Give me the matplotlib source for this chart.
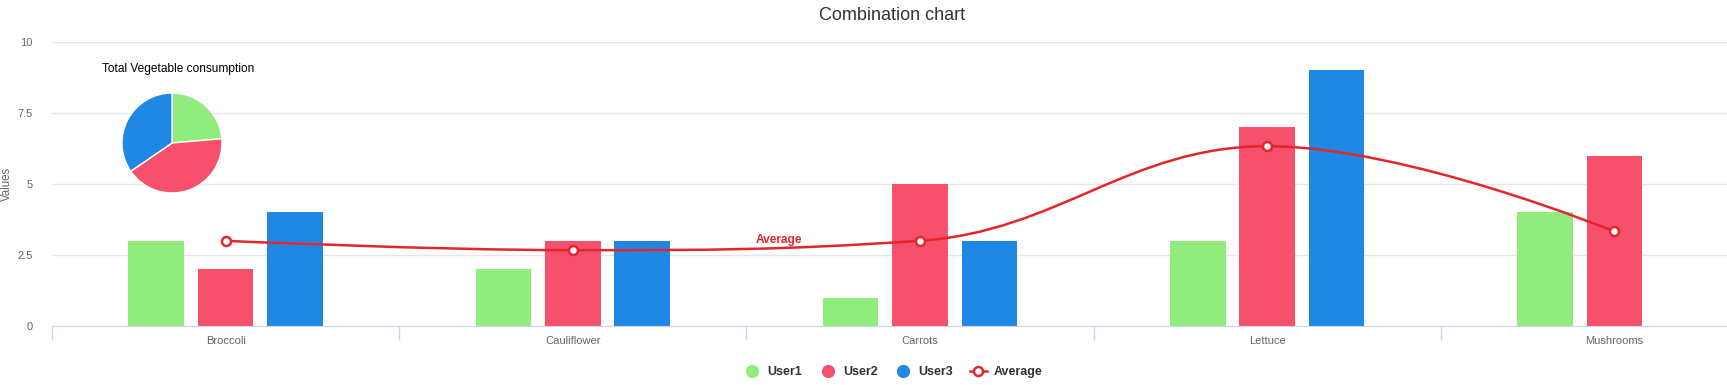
import numpy as np
import matplotlib
matplotlib.use("Agg")
import matplotlib.pyplot as plt
from matplotlib.lines import Line2D
from matplotlib.path import Path
from matplotlib.patches import PathPatch

plt.rcParams['font.family'] = ['Liberation Sans', 'DejaVu Sans']

# data
categories = ['Broccoli', 'Cauliflower', 'Carrots', 'Lettuce', 'Mushrooms']
user1 = [3, 2, 1, 3, 4]
user2 = [2, 3, 5, 7, 6]
user3 = [4, 3, 3, 9, 0]
average = [3, 2.67, 3, 6.33, 3.33]
pie_labels = ['User1', 'User2', 'User3']
pie_values = [13, 23, 19]
y_ticks = [0, 2.5, 5, 7.5, 10]
y_tick_labels = ['0', '2.5', '5', '7.5', '10']

colors = ['#90ed7d', '#f7506c', '#1f88e5']
line_color = '#e3262c'

W, H = 1727, 385
fig = plt.figure(figsize=(W / 100, H / 100), dpi=100)

# plot area runs past the right edge of the picture (cropped screenshot)
left, right, top, bottom = 52, 1788, 42, 326
ax = fig.add_axes([left / W, (H - bottom) / H, (right - left) / W, (bottom - top) / H])
ax.set_xlim(-0.5, len(categories) - 0.5)
ax.set_ylim(0, 10)

for s in ['top', 'right', 'left']:
    ax.spines[s].set_visible(False)
ax.spines['bottom'].set_color('#ccd6eb')
ax.spines['bottom'].set_zorder(4)

ax.set_yticks(y_ticks)
ax.set_yticklabels(y_tick_labels)
ax.yaxis.grid(True, color='#e6e6e6', linewidth=1)
ax.set_axisbelow(True)
ax.tick_params(axis='y', length=0, pad=14, labelsize=8, labelcolor='#666666')

x = np.arange(len(categories))
ax.set_xticks(x)
ax.set_xticklabels(categories)
ax.tick_params(axis='x', length=0, pad=7, labelsize=8, labelcolor='#666666')
# category boundary ticks
ax.set_xticks(np.arange(len(categories) + 1) - 0.5, minor=True)
ax.tick_params(axis='x', which='minor', length=10, color='#ccd6eb', width=1)

# y axis title
fig.text(7 / W, 1 - 184 / H, 'Values', fontsize=8.3, color='#666666',
         rotation=90, ha='center', va='center')

# columns
bw = 0.16
for off, vals, c in zip([-0.2, 0, 0.2], [user1, user2, user3], colors):
    ax.bar(x + off, vals, width=bw, color=c, zorder=2)


# spline (Highcharts style control points)
def hc_spline(xs, ys, smoothing=1.5):
    n = len(xs)
    lc = [None] * n
    rc = [None] * n
    for i in range(1, n - 1):
        px, py = xs[i], ys[i]
        lx0, ly0 = xs[i - 1], ys[i - 1]
        nx, ny = xs[i + 1], ys[i + 1]
        d = smoothing + 1
        lcx = (smoothing * px + lx0) / d
        lcy = (smoothing * py + ly0) / d
        rcx = (smoothing * px + nx) / d
        rcy = (smoothing * py + ny) / d
        corr = (rcy - lcy) * (rcx - px) / (rcx - lcx) + py - rcy
        lcy += corr
        rcy += corr
        if lcy > ly0 and lcy > py:
            lcy = max(ly0, py)
            rcy = 2 * py - lcy
        elif lcy < ly0 and lcy < py:
            lcy = min(ly0, py)
            rcy = 2 * py - lcy
        if rcy > ny and rcy > py:
            rcy = max(ny, py)
            lcy = 2 * py - rcy
        elif rcy < ny and rcy < py:
            rcy = min(ny, py)
            lcy = 2 * py - rcy
        lc[i] = (lcx, lcy)
        rc[i] = (rcx, rcy)
    verts = [(xs[0], ys[0])]
    codes = [Path.MOVETO]
    for i in range(1, n):
        c1 = rc[i - 1] if rc[i - 1] else (xs[i - 1], ys[i - 1])
        c2 = lc[i] if lc[i] else (xs[i], ys[i])
        verts += [c1, c2, (xs[i], ys[i])]
        codes += [Path.CURVE4] * 3
    return Path(verts, codes)


ax.add_patch(PathPatch(hc_spline(list(x), average), facecolor='none',
                       edgecolor=line_color, linewidth=1.8, zorder=3))
ax.plot(x, average, linestyle='none', marker='o', markersize=6.5,
        markerfacecolor='white', markeredgecolor=line_color, markeredgewidth=1.8, zorder=5)

fig.text(779 / W, 1 - 240 / H, 'Average', color=line_color, fontsize=8.6,
         fontweight='bold', ha='center', va='center')

# title
fig.text(892 / W, 1 - 16 / H, 'Combination chart', fontsize=13, color='#333333',
         ha='center', va='center')

# pie
r = 50
cx, cy = 172, 143
pax = fig.add_axes([(cx - r) / W, (H - cy - r) / H, 2 * r / W, 2 * r / H])
pax.pie(pie_values, colors=colors, startangle=90, counterclock=False,
        wedgeprops=dict(edgecolor='white', linewidth=1))
pax.set_aspect('auto')
pax.set_xlim(-1, 1)
pax.set_ylim(-1, 1)
fig.text(178 / W, 1 - 69 / H, 'Total Vegetable consumption', fontsize=8.6,
         color='black', ha='center', va='center')

# legend
handles = [Line2D([], [], linestyle='none', marker='o', markersize=8.5,
                  markerfacecolor=c, markeredgecolor=c) for c in colors]
handles.append(Line2D([], [], color=line_color, linewidth=1.8, marker='o', markersize=6.5,
                      markerfacecolor='white', markeredgecolor=line_color, markeredgewidth=1.8))
leg = fig.legend(handles, pie_labels + ['Average'], loc='center', bbox_to_anchor=(893 / W, 1 - 372 / H),
                 ncol=4, frameon=False, handlelength=1.4, handletextpad=0.5, columnspacing=1.35,
                 prop={'size': 9.0, 'weight': 'bold'})
for t in leg.get_texts():
    t.set_color('#333333')

fig.savefig('out.png', dpi=100)
